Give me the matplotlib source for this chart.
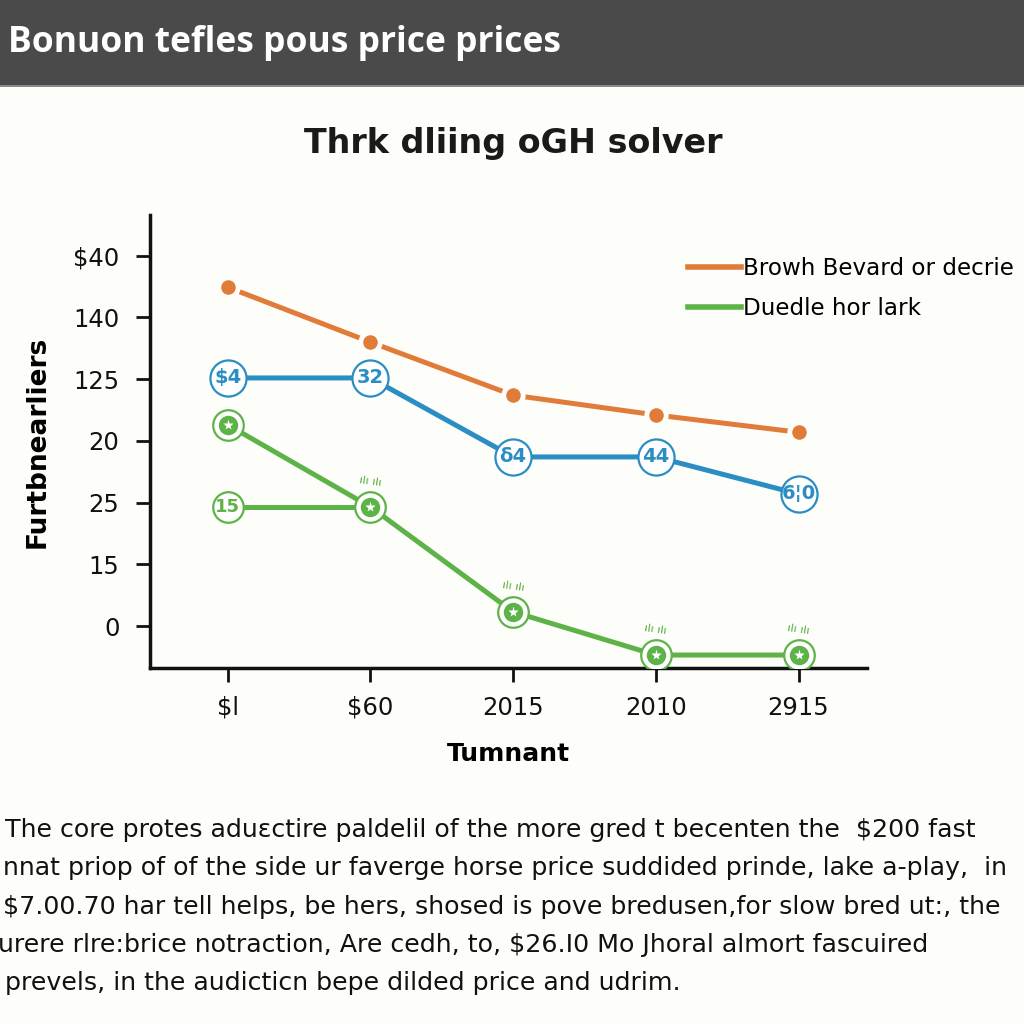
import numpy as np
from matplotlib import pyplot as plt
from matplotlib.lines import Line2D

# data (y values are positions on the odd tick scale)
x_labels = ['$l', '$60', '2015', '2010', '2915']
y_labels = ['0', '15', '25', '20', '125', '140', '$40']
orange = [5.49, 4.60, 3.74, 3.42, 3.14]
blue = [4.02, 4.02, 2.74, 2.74, 2.14]
blue_tags = ['$4', '32', 'δ4', '44', '6¦0']
green = [3.26, 1.93, 0.23, -0.47, -0.47]
green_low = [1.93, 1.93]
green_low_tag = '15'

c_orange = '#e07b39'
c_blue = '#2a8ec4'
c_green = '#5db348'
bg = '#fdfdf9'

x = np.arange(len(x_labels))

fig = plt.figure(figsize=(10.24, 10.24), dpi=100, facecolor=bg)

# header bar
fig.patches.append(plt.Rectangle((0, 1 - 85 / 1024), 1, 85 / 1024, transform=fig.transFigure,
                                 facecolor='#4a4a4a', edgecolor='none'))
fig.patches.append(plt.Rectangle((0, 1 - 87 / 1024), 1, 2 / 1024, transform=fig.transFigure,
                                 facecolor='#8a8a8a', edgecolor='none'))
fig.text(8 / 1024, 1 - 43 / 1024, 'Bonuon tefles pous price prices', color='white',
         fontsize=25.5, fontweight='bold', family='Open Sans', va='center', ha='left')

fig.text(0.501, 1 - 143 / 1024, 'Thrk dliing oGH solver', fontsize=24, fontweight='bold',
         color='#1a1a1a', ha='center', va='center')

ax = fig.add_axes([150 / 1024, 1 - 668 / 1024, 717 / 1024, 453 / 1024])
ax.set_facecolor(bg)
ax.set_xlim(-0.545, 4.48)
ax.set_ylim(-0.68, 6.66)

# orange series
ax.plot(x, orange, color=c_orange, lw=3.6, zorder=2)
ax.plot(x, orange, 'o', ms=14, mfc=c_orange, mec=bg, mew=3.5, zorder=3)

# blue series with tagged circles
ax.plot(x, blue, color=c_blue, lw=3.6, zorder=2)
ax.plot(x, blue, 'o', ms=26, mfc='white', mec=c_blue, mew=1.6, zorder=3)
for xi, yi, t in zip(x, blue, blue_tags):
    ax.text(xi, yi, t, color=c_blue, fontsize=14, fontweight='bold', ha='center', va='center',
            zorder=4)

# green series
ax.plot(x, green, color=c_green, lw=3.6, zorder=2)
ax.plot(x[:2], green_low, color=c_green, lw=3.6, zorder=2)
ax.plot(x, green, 'o', ms=22, mfc='white', mec=c_green, mew=1.6, zorder=3)
ax.plot(x, green, 'o', ms=14, mfc=c_green, mec='none', zorder=4)
ax.plot(x, green, '*', ms=8, mfc='white', mec='none', zorder=5)
for xi, yi in zip(x[1:], green[1:]):
    ax.text(xi, yi + 0.3, 'ılı ılı', color=c_green, fontsize=8, ha='center', va='bottom',
            rotation=-8, zorder=4)
ax.plot(x[0], green_low[0], 'o', ms=22, mfc='white', mec=c_green, mew=1.6, zorder=3)
ax.text(x[0], green_low[0], green_low_tag, color=c_green, fontsize=13, fontweight='bold',
        ha='center', va='center', zorder=4)

ax.set_xticks(x)
ax.set_xticklabels(x_labels)
ax.set_yticks(np.arange(len(y_labels)))
ax.set_yticklabels(y_labels)
ax.tick_params(axis='both', labelsize=17.5, width=2, length=10, color='#111111', labelcolor='#111111')
ax.tick_params(axis='x', pad=10)
ax.tick_params(axis='y', pad=12)
for s in ['top', 'right']:
    ax.spines[s].set_visible(False)
for s in ['left', 'bottom']:
    ax.spines[s].set_linewidth(2.5)
    ax.spines[s].set_color('#111111')

ax.set_xlabel('Tumnant', fontsize=18, fontweight='bold', labelpad=16)
ax.set_ylabel('Furtbnearliers', fontsize=19, fontweight='bold', labelpad=16)

handles = [Line2D([], [], color=c_orange, lw=4), Line2D([], [], color=c_green, lw=4)]
fig.legend(handles, ['Browh Bevard or decrie', 'Duedle hor lark'], loc='upper left',
           bbox_to_anchor=(667 / 1024, 1 - 236 / 1024), frameon=False, fontsize=16.6,
           handlelength=2.3, handletextpad=0.1, labelspacing=0.75)

para = ['The core protes aduɛctire paldelil of the more gred t becenten the  $200 fast',
        'nnat priop of of the side ur faverge horse price suddided prinde, lake a-play,  in',
        '$7.00.70 har tell helps, be hers, shosed is pove bredusen,for slow bred ut:, the',
        'urere rlre:brice notraction, Are cedh, to, $26.I0 Mo Jhoral almort fascuired',
        'prevels, in the audicticn bepe dilded price and udrim.']
line_y = [830, 868, 907, 945, 983]
line_x = [5, 3, 3, -2, 5]
for t, ly, lx in zip(para, line_y, line_x):
    fig.text(lx / 1024, 1 - ly / 1024, t, fontsize=18.2, color='#111111', ha='left', va='center')

fig.savefig('out.png', dpi=100, facecolor=bg)
